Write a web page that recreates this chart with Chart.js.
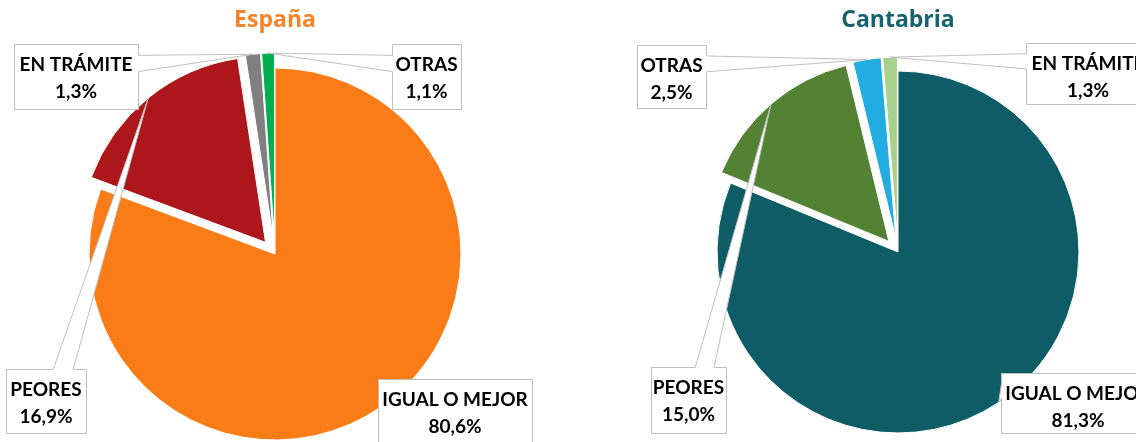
<!DOCTYPE html>
<html>
<head>
<meta charset="utf-8">
<script src="https://cdn.jsdelivr.net/npm/chart.js@4"></script>
<style>
  html, body { margin: 0; padding: 0; background: #fff; }
  .wrap { display: flex; width: 1136px; height: 442px; overflow: hidden; }
  canvas { display: block; }
</style>
</head>
<body>
<div class="wrap">
  <canvas id="spainChart" width="568" height="442"></canvas>
  <canvas id="cantabriaChart" width="568" height="442"></canvas>
</div>
<script>
// values, in the order the slices run clockwise from 12 o'clock
const spainLabels = ['IGUAL O MEJOR', 'PEORES', 'EN TRÁMITE', 'OTRAS'];
const spainValues = [80.6, 16.9, 1.3, 1.1];
const cantabriaLabels = ['IGUAL O MEJOR', 'PEORES', 'OTRAS', 'EN TRÁMITE'];
const cantabriaValues = [81.3, 15.0, 2.5, 1.3];

const FONT = 'Lato, "Open Sans", sans-serif';
const TITLE_FONT = '"Open Sans", Lato, sans-serif';

// pull slices out of the pie; chart.js' own offset also grows small slices, so translate by hand
const explodePlugin = {
    id: 'explode',
    beforeDatasetDraw(chart, args, opts) {
        const ctx = chart.ctx;
        args.meta.data.forEach((arc, i) => {
            const d = opts.distance[i] || 0;
            const mid = (arc.startAngle + arc.endAngle) / 2;
            ctx.save();
            ctx.translate(Math.cos(mid) * d, Math.sin(mid) * d);
            arc.draw(ctx);
            ctx.restore();
        });
        return false;
    }
};

// rectangle with a wedge pointing at the slice, like the office "data callout" shape
function calloutPath(ctx, b, tip) {
    const x0 = b.x + 0.5, y0 = b.y + 0.5, x1 = b.x + b.w + 0.5, y1 = b.y + b.h + 0.5;
    const inside = tip.x >= x0 && tip.x <= x1 && tip.y >= y0 && tip.y <= y1;
    ctx.beginPath();
    if (inside) {
        ctx.rect(x0, y0, b.w, b.h);
        return;
    }
    const dx = tip.x - (x0 + b.w / 2);
    const dy = tip.y - (y0 + b.h / 2);
    const vertical = Math.abs(dy) > Math.abs(dx * b.h / b.w);
    const xa = x0 + b.w * (dx > 0 ? 7 : 2) / 12, xb = x0 + b.w * (dx > 0 ? 10 : 5) / 12;
    const ya = y0 + b.h * (dy > 0 ? 7 : 2) / 12, yb = y0 + b.h * (dy > 0 ? 10 : 5) / 12;
    ctx.moveTo(x0, y0);
    if (vertical && dy < 0) { ctx.lineTo(xa, y0); ctx.lineTo(tip.x, tip.y); ctx.lineTo(xb, y0); }
    ctx.lineTo(x1, y0);
    if (!vertical && dx > 0) { ctx.lineTo(x1, ya); ctx.lineTo(tip.x, tip.y); ctx.lineTo(x1, yb); }
    ctx.lineTo(x1, y1);
    if (vertical && dy > 0) { ctx.lineTo(xb, y1); ctx.lineTo(tip.x, tip.y); ctx.lineTo(xa, y1); }
    ctx.lineTo(x0, y1);
    if (!vertical && dx < 0) { ctx.lineTo(x0, yb); ctx.lineTo(tip.x, tip.y); ctx.lineTo(x0, ya); }
    ctx.closePath();
}

const calloutPlugin = {
    id: 'callouts',
    afterDraw(chart, args, opts) {
        const ctx = chart.ctx;
        const meta = chart.getDatasetMeta(0);
        const data = chart.data.datasets[0].data;
        const dist = chart.options.plugins.explode.distance;
        meta.data.forEach((arc, i) => {
            const b = opts.boxes[i];
            const mid = (arc.startAngle + arc.endAngle) / 2;
            const d = dist[i] || 0;
            const tip = {
                x: arc.x + Math.cos(mid) * (arc.outerRadius + d),
                y: arc.y + Math.sin(mid) * (arc.outerRadius + d)
            };
            ctx.save();
            calloutPath(ctx, b, tip);
            ctx.fillStyle = '#ffffff';
            ctx.fill();
            ctx.lineWidth = 1;
            ctx.strokeStyle = '#bfbfbf';
            ctx.stroke();

            ctx.fillStyle = '#000000';
            ctx.font = 'bold 19px ' + FONT;
            ctx.textAlign = 'center';
            ctx.textBaseline = 'middle';
            const cx = b.x + b.w / 2;
            ctx.fillText(chart.data.labels[i], cx, b.y + 21);
            ctx.fillText(data[i].toFixed(1).replace('.', ',') + '%', cx, b.y + 48);
            ctx.restore();
        });
    }
};

function buildPie(canvasId, cfg) {
    const ctx = document.getElementById(canvasId).getContext('2d');
    return new Chart(ctx, {
        type: 'pie',
        data: {
            labels: cfg.labels,
            datasets: [{
                data: cfg.values,
                backgroundColor: cfg.colors,
                borderColor: '#ffffff',
                borderWidth: 1
            }]
        },
        options: {
            responsive: false,
            animation: false,
            events: [],
            radius: cfg.radius,
            layout: { padding: cfg.padding },
            plugins: {
                legend: { display: false },
                tooltip: { enabled: false },
                title: {
                    display: true,
                    text: cfg.title,
                    color: cfg.titleColor,
                    font: { family: TITLE_FONT, size: 23, weight: 'bold' },
                    padding: cfg.titlePadding
                },
                explode: { distance: cfg.explode },
                callouts: { boxes: cfg.boxes }
            }
        },
        plugins: [explodePlugin, calloutPlugin]
    });
}

buildPie('spainChart', {
    labels: spainLabels,
    values: spainValues,
    colors: ['#fa7c16', '#ad161a', '#808080', '#00b050'],
    title: 'España',
    titleColor: '#f5832a',
    radius: 186,
    padding: { left: 0, right: 18, top: 0, bottom: 0 },
    titlePadding: { top: 7, bottom: 31.4 },
    explode: [0, 15, 15, 15],
    boxes: [
        { x: 378, y: 379, w: 154, h: 64 },
        { x: 6, y: 369, w: 80, h: 64 },
        { x: 14, y: 44, w: 124, h: 65 },
        { x: 392, y: 44, w: 69, h: 65 }
    ]
});

buildPie('cantabriaChart', {
    labels: cantabriaLabels,
    values: cantabriaValues,
    colors: ['#0d5c66', '#548235', '#22ace2', '#a9d18e'],
    title: 'Cantabria',
    titleColor: '#17636d',
    radius: 181,
    padding: { left: 92, right: 0, top: 0, bottom: 0 },
    titlePadding: { top: 7, bottom: 27.4 },
    explode: [0, 14, 14, 14],
    boxes: [
        { x: 433, y: 373, w: 154, h: 60 },
        { x: 83, y: 367, w: 75, h: 66 },
        { x: 69, y: 45, w: 69, h: 63 },
        { x: 458, y: 43, w: 124, h: 61 }
    ]
});
</script>
</body>
</html>
